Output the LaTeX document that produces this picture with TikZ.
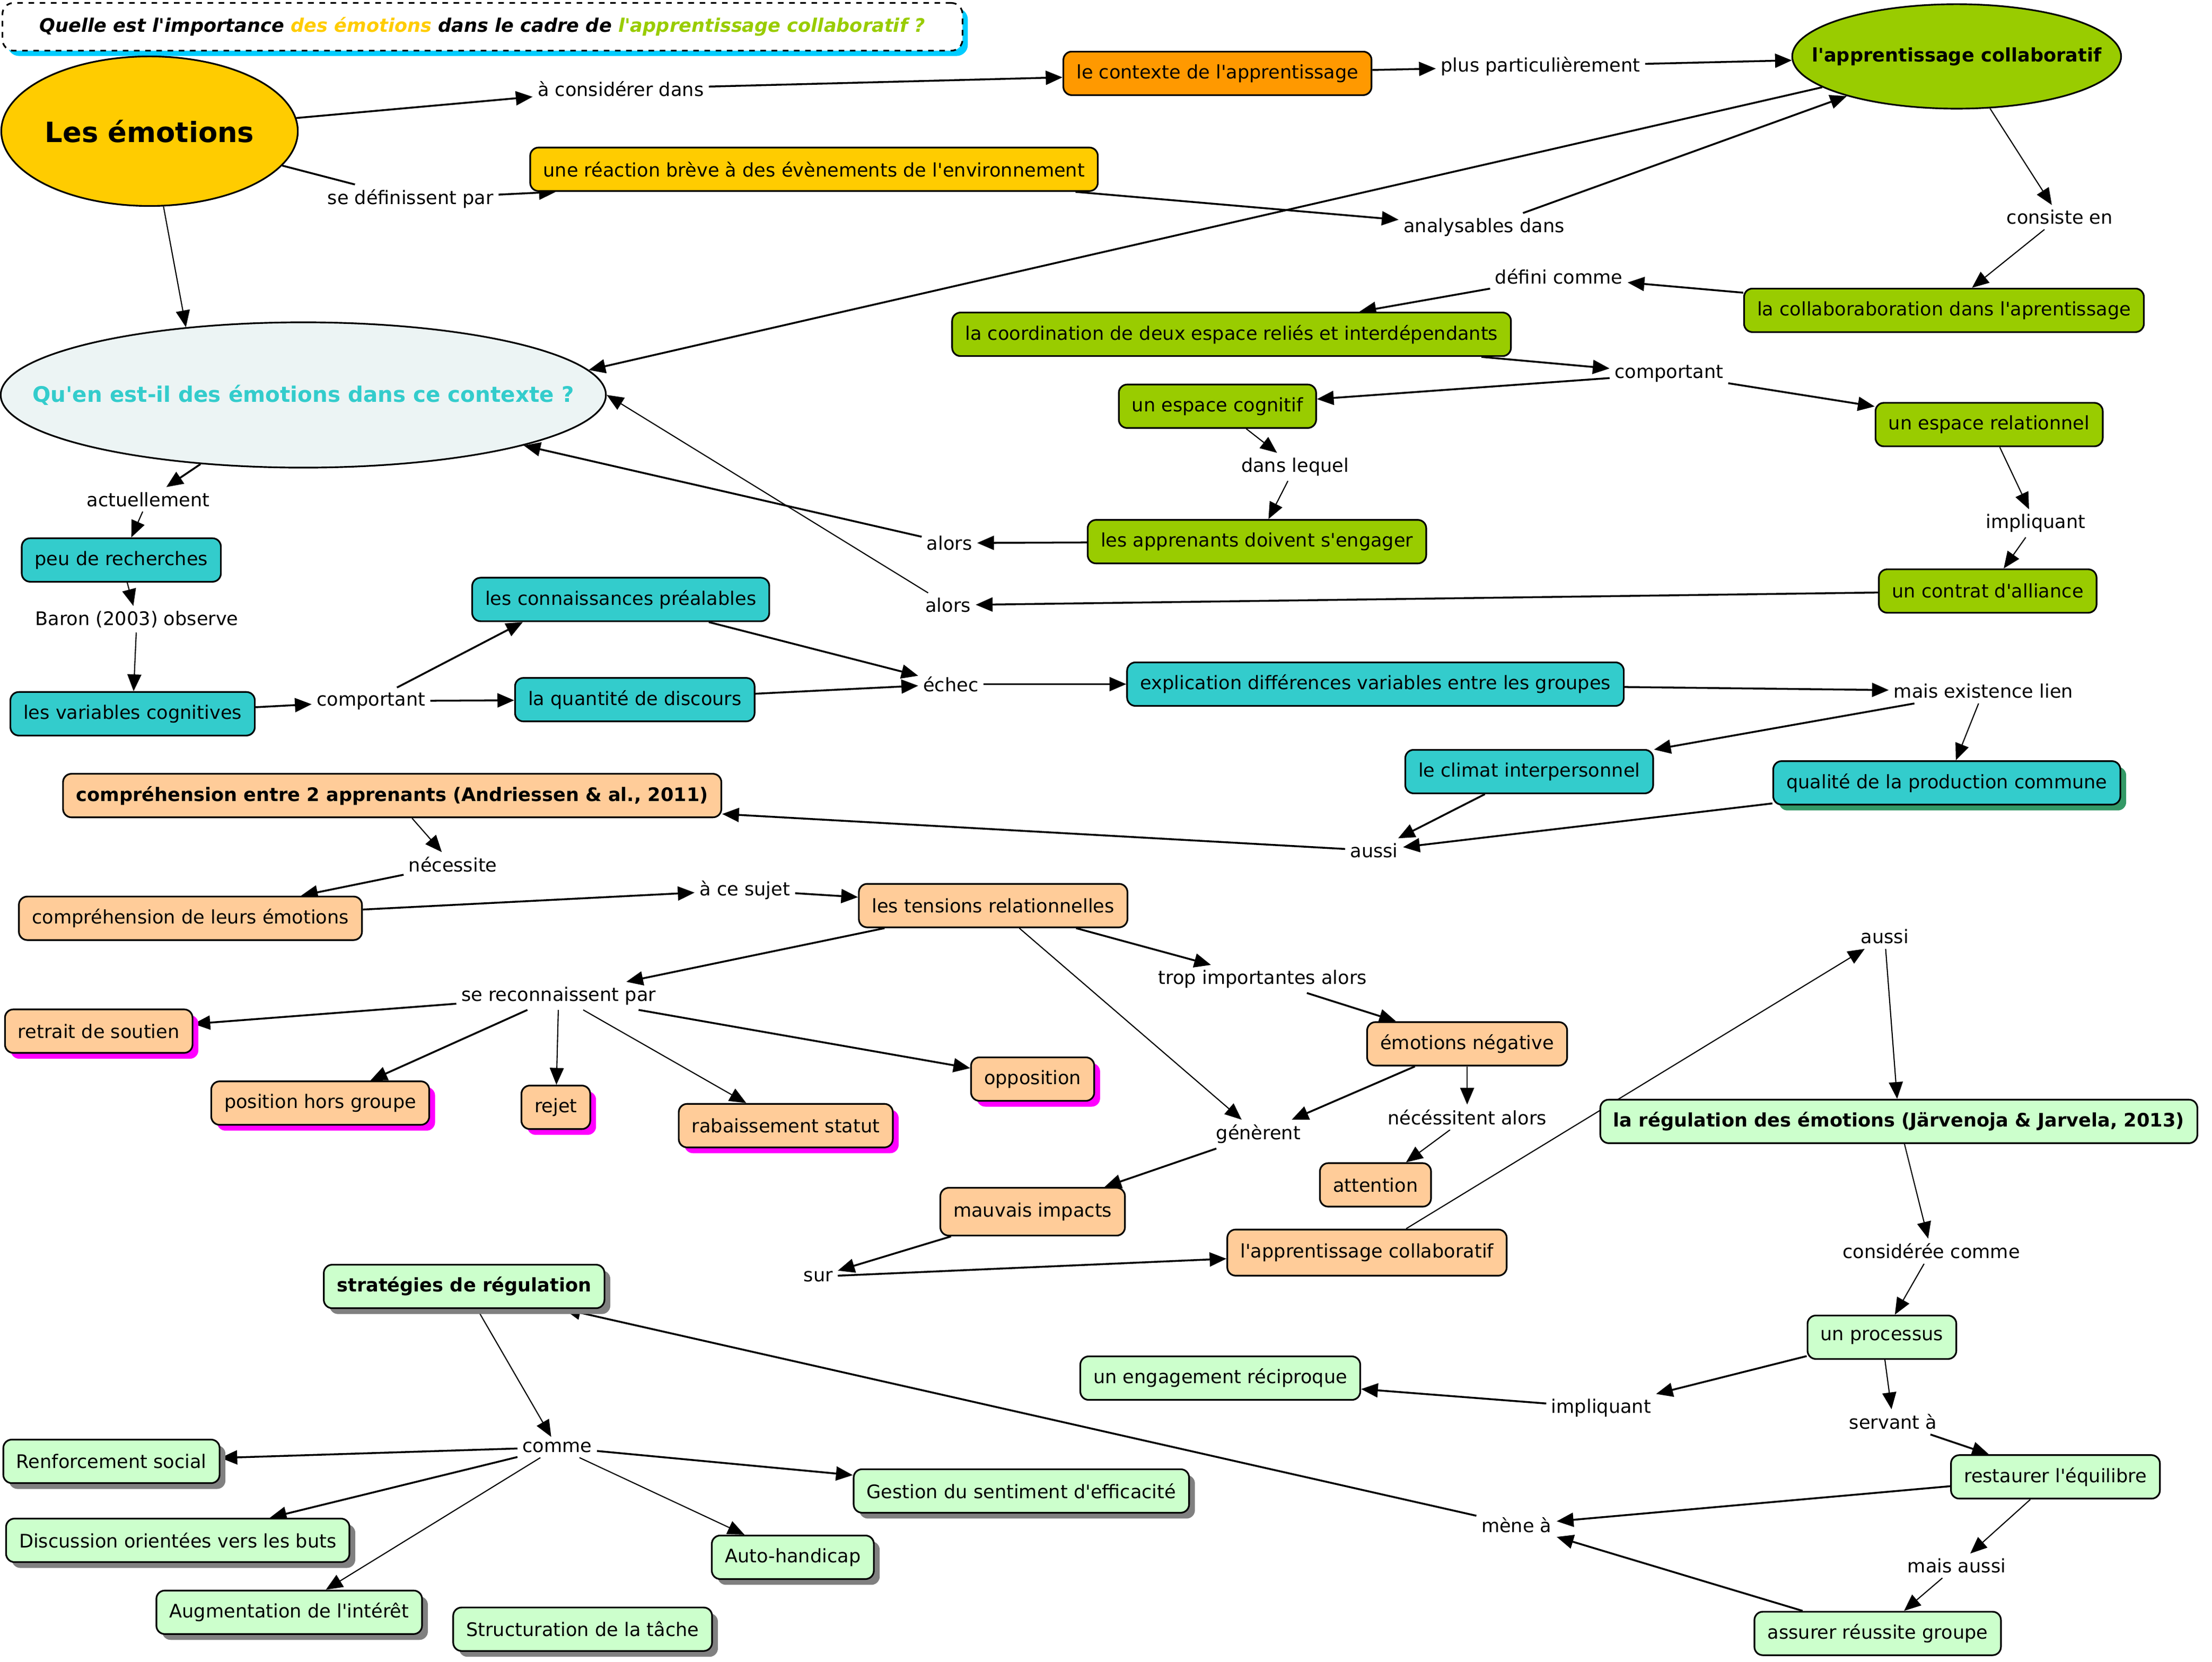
\documentclass[tikz,border=0pt]{standalone}
\usepackage{fontspec}
\setmainfont{DejaVu Sans}[Ligatures=TeXOff]
\usetikzlibrary{shapes.geometric,shadows,backgrounds,arrows.meta}
\definecolor{cGold}{HTML}{FFCC00}
\definecolor{cOrange}{HTML}{FF9900}
\definecolor{cGreen}{HTML}{99CC00}
\definecolor{cCyan}{HTML}{33CCCC}
\definecolor{cPeach}{HTML}{FFCC99}
\definecolor{cMint}{HTML}{CCFFCC}
\definecolor{cMist}{HTML}{ECF4F4}
\definecolor{cSky}{HTML}{00CCFF}
\definecolor{cSea}{HTML}{339966}
\definecolor{cPink}{HTML}{FF00FF}
\definecolor{cGrey}{HTML}{808080}

\begin{document}
\begin{tikzpicture}[x=0.0266cm,y=-0.0266cm,>={Triangle[length=9pt,width=7.5pt]},
	font=\fontsize{10}{12}\selectfont,
	box/.style={draw,rounded corners=4.5pt,line width=0.9pt,minimum height=0.82cm,inner xsep=7pt},
	ell/.style={draw,ellipse,line width=0.9pt,inner sep=0pt},
	phr/.style={inner sep=2.5pt},
	lnk/.style={->,line width=1pt},
	tlnk/.style={->,line width=0.6pt},
	pink/.style={drop shadow={shadow xshift=0.11cm,shadow yshift=-0.11cm,fill=cPink,opacity=1}},
	grey/.style={drop shadow={shadow xshift=0.11cm,shadow yshift=-0.11cm,fill=cGrey,opacity=1}},
	ttl/.style={draw,dashed,rounded corners=6pt,line width=0.9pt,fill=white,minimum width=18.1cm,minimum height=0.9cm,
		font=\fontsize{10}{12}\selectfont\bfseries\itshape,
		drop shadow={shadow xshift=0.1cm,shadow yshift=-0.1cm,fill=cSky,opacity=1}}]
	\useasboundingbox (0,0) rectangle (1568,1178);
	% titre
	\node[ttl] (titre) at (342,19) {Quelle est l'importance \textcolor{cGold}{des émotions} dans le cadre de \textcolor{cGreen}{l'apprentissage collaboratif ?}};
	% concepts
	\node[ell,fill=cGold,minimum width=5.59cm,minimum height=2.82cm,
		label={[font=\fontsize{15}{18}\selectfont\bfseries]center:Les émotions}] (emo) at (106,93) {};
	\node[box,fill=cOrange] (ctx) at (863,52) {le contexte de l'apprentissage};
	\node[ell,fill=cGreen,minimum width=6.2cm,minimum height=1.97cm,
		label={[font=\bfseries]center:l'apprentissage collaboratif}] (apc) at (1387,40) {};
	\node[box,fill=cGold] (rea) at (577,120) {une réaction brève à des évènements de l'environnement};
	\node[box,fill=cGreen] (col) at (1378,220) {la collaboraboration dans l'aprentissage};
	\node[box,fill=cGreen] (coo) at (873,237) {la coordination de deux espace reliés et interdépendants};
	\node[box,fill=cGreen] (cog) at (863,288) {un espace cognitif};
	\node[box,fill=cGreen] (rel) at (1410,301) {un espace relationnel};
	\node[box,fill=cGreen] (eng) at (891,384) {les apprenants doivent s'engager};
	\node[box,fill=cGreen] (ali) at (1409,419) {un contrat d'alliance};
	\node[ell,fill=cMist,minimum width=11.41cm,minimum height=2.74cm,
		label={[text=cCyan,font=\fontsize{11.5}{14}\selectfont\bfseries]center:Qu'en est-il des émotions dans ce contexte ?}] (qst) at (215,280) {};
	\node[box,fill=cCyan] (peu) at (86,397) {peu de recherches};
	\node[box,fill=cCyan] (var) at (94,506) {les variables cognitives};
	\node[box,fill=cCyan] (con) at (440,425) {les connaissances préalables};
	\node[box,fill=cCyan] (qua) at (450,496) {la quantité de discours};
	\node[box,fill=cCyan] (expl) at (975,485) {explication différences variables entre les groupes};
	\node[box,fill=cCyan] (cli) at (1084,547) {le climat interpersonnel};
	\node[box,fill=cCyan,drop shadow={shadow xshift=0.11cm,shadow yshift=-0.11cm,fill=cSea,opacity=1}] (prod) at (1380,555) {qualité de la production commune};
	\node[box,fill=cPeach,font=\bfseries] (cmp) at (278,564) {compréhension entre 2 apprenants (Andriessen \& al., 2011)};
	\node[box,fill=cPeach] (cem) at (135,651) {compréhension de leurs émotions};
	\node[box,fill=cPeach] (ten) at (704,642) {les tensions relationnelles};
	\node[box,fill=cPeach,pink] (ret) at (70,731) {retrait de soutien};
	\node[box,fill=cPeach,pink] (pos) at (227,782) {position hors groupe};
	\node[box,fill=cPeach,pink] (rej) at (394,785) {rejet};
	\node[box,fill=cPeach,pink] (rab) at (557,798) {rabaissement statut};
	\node[box,fill=cPeach,pink] (opp) at (732,765) {opposition};
	\node[box,fill=cPeach] (neg) at (1040,740) {émotions négative};
	\node[box,fill=cPeach] (att) at (975,840) {attention};
	\node[box,fill=cPeach,minimum height=0.9cm] (mau) at (732,859) {mauvais impacts};
	\node[box,fill=cPeach,minimum height=0.87cm] (apb) at (969,888) {l'apprentissage collaboratif};
	\node[box,fill=cMint,font=\bfseries] (reg) at (1346,795) {la régulation des émotions (Järvenoja \& Jarvela, 2013)};
	\node[box,fill=cMint] (prc) at (1334,948) {un processus};
	\node[box,fill=cMint] (rec) at (865,977) {un engagement réciproque};
	\node[box,fill=cMint] (equ) at (1457,1047) {restaurer l'équilibre};
	\node[box,fill=cMint] (reu) at (1331,1158) {assurer réussite groupe};
	\node[box,fill=cMint,grey,font=\bfseries] (strat) at (329,912) {stratégies de régulation};
	\node[box,fill=cMint,grey] (renf) at (79,1036) {Renforcement social};
	\node[box,fill=cMint,grey] (gest) at (724,1057) {Gestion du sentiment d'efficacité};
	\node[box,fill=cMint,grey] (disc) at (126,1092) {Discussion orientées vers les buts};
	\node[box,fill=cMint,grey] (auto) at (562,1104) {Auto-handicap};
	\node[box,fill=cMint,grey] (augm) at (205,1143) {Augmentation de l'intérêt};
	\node[box,fill=cMint,grey] (struc) at (413,1155) {Structuration de la tâche};
	% mots de liaison
	\node[phr] (considerer) at (440,63) {à considérer dans};
	\node[phr] (plus) at (1092,47) {plus particulièrement};
	\node[phr] (sedef) at (291,141) {se définissent par};
	\node[phr] (analys) at (1052,161) {analysables dans};
	\node[phr] (consiste) at (1460,154) {consiste en};
	\node[phr] (defini) at (1105,196) {défini comme};
	\node[phr] (comport) at (1183,265) {comportant};
	\node[phr] (lequel) at (918,331) {dans lequel};
	\node[phr] (impl) at (1443,371) {impliquant};
	\node[phr] (alorsA) at (673,385) {alors};
	\node[phr] (alorsB) at (672,429) {alors};
	\node[phr] (actu) at (105,354) {actuellement};
	\node[phr] (baron) at (97,439) {Baron (2003) observe};
	\node[phr] (comportB) at (263,497) {comportant};
	\node[phr] (echec) at (674,485) {échec};
	\node[phr] (lien) at (1406,490) {mais existence lien};
	\node[phr] (aussiA) at (974,603) {aussi};
	\node[phr] (necess) at (321,613) {nécessite};
	\node[phr] (sujet) at (528,631) {à ce sujet};
	\node[phr] (reco) at (396,706) {se reconnaissent par};
	\node[phr] (trop) at (895,694) {trop importantes alors};
	\node[phr] (generent) at (892,804) {génèrent};
	\node[phr] (necalors) at (1040,792) {nécéssitent alors};
	\node[phr] (sur) at (580,905) {sur};
	\node[phr] (aussiB) at (1336,664) {aussi};
	\node[phr] (consid) at (1369,887) {considérée comme};
	\node[phr] (implB) at (1135,998) {impliquant};
	\node[phr] (servant) at (1342,1008) {servant à};
	\node[phr] (mene) at (1075,1081) {mène à};
	\node[phr] (maisaussi) at (1387,1110) {mais aussi};
	\node[phr] (comme) at (395,1026) {comme};
	% liens
	\begin{scope}[on background layer]
		\draw[lnk] (emo) -- (considerer);
		\draw[lnk] (considerer) -- (ctx);
		\draw[lnk] (ctx) -- (plus);
		\draw[lnk] (plus) -- (apc);
		\draw[line width=1pt] (emo) -- (sedef);
		\draw[lnk] (sedef) -- (rea.185);
		\draw[lnk] (rea) -- (analys);
		\draw[lnk] (analys) -- (apc);
		\draw[tlnk] (emo) -- (qst.150);
		\draw[lnk] (apc) -- (qst.5);
		\draw[tlnk] (apc) -- (consiste);
		\draw[tlnk] (consiste) -- (col);
		\draw[lnk] (col) -- (defini);
		\draw[lnk] (defini) -- (coo);
		\draw[lnk] (coo) -- (comport);
		\draw[lnk] (comport) -- (cog);
		\draw[lnk] (comport) -- (rel);
		\draw[tlnk] (cog) -- (lequel);
		\draw[tlnk] (lequel) -- (eng);
		\draw[tlnk] (rel) -- (impl);
		\draw[tlnk] (impl) -- (ali);
		\draw[lnk] (eng) -- (alorsA);
		\draw[lnk] (alorsA) -- (qst);
		\draw[lnk] (ali) -- (alorsB);
		\draw[tlnk] (alorsB) -- (qst.east);
		\draw[lnk] (qst) -- (actu);
		\draw[tlnk] (actu) -- (peu);
		\draw[tlnk] (peu) -- (baron);
		\draw[tlnk] (baron) -- (var);
		\draw[lnk] (var) -- (comportB);
		\draw[lnk] (comportB) -- (con.193);
		\draw[lnk] (comportB) -- (qua);
		\draw[lnk] (con) -- (echec);
		\draw[lnk] (qua) -- (echec);
		\draw[lnk] (echec) -- (expl);
		\draw[lnk] (expl) -- (lien);
		\draw[lnk] (lien) -- (cli);
		\draw[tlnk] (lien) -- (prod);
		\draw[lnk] (cli) -- (aussiA);
		\draw[lnk] (prod) -- (aussiA);
		\draw[lnk] (aussiA) -- (cmp);
		\draw[tlnk] (cmp) -- (necess);
		\draw[lnk] (necess) -- (cem);
		\draw[lnk] (cem) -- (sujet);
		\draw[lnk] (sujet) -- (ten);
		\draw[lnk] (ten) -- (reco);
		\draw[lnk] (reco) -- (ret);
		\draw[lnk] (reco) -- (pos);
		\draw[tlnk] (reco) -- (rej);
		\draw[tlnk] (reco) -- (rab);
		\draw[lnk] (reco) -- (opp);
		\draw[lnk] (ten) -- (trop);
		\draw[lnk] (trop) -- (neg);
		\draw[tlnk] (ten) -- (generent);
		\draw[lnk] (neg) -- (generent);
		\draw[tlnk] (neg) -- (necalors);
		\draw[tlnk] (necalors) -- (att);
		\draw[lnk] (generent) -- (mau);
		\draw[lnk] (mau) -- (sur);
		\draw[lnk] (sur) -- (apb);
		\draw[tlnk] (apb) -- (aussiB);
		\draw[tlnk] (aussiB) -- (reg);
		\draw[tlnk] (reg) -- (consid);
		\draw[tlnk] (consid) -- (prc);
		\draw[lnk] (prc) -- (implB);
		\draw[lnk] (implB) -- (rec);
		\draw[tlnk] (prc) -- (servant);
		\draw[lnk] (servant) -- (equ);
		\draw[lnk] (equ) -- (mene);
		\draw[tlnk] (equ) -- (maisaussi);
		\draw[tlnk] (maisaussi) -- (reu);
		\draw[lnk] (reu) -- (mene);
		\draw[lnk] (mene) -- (strat);
		\draw[tlnk] (strat) -- (comme);
		\draw[lnk] (comme) -- (renf);
		\draw[lnk] (comme) -- (disc);
		\draw[tlnk] (comme) -- (augm);
		\draw[tlnk] (comme) -- (auto);
		\draw[lnk] (comme) -- (gest);
	\end{scope}
\end{tikzpicture}
\end{document}
